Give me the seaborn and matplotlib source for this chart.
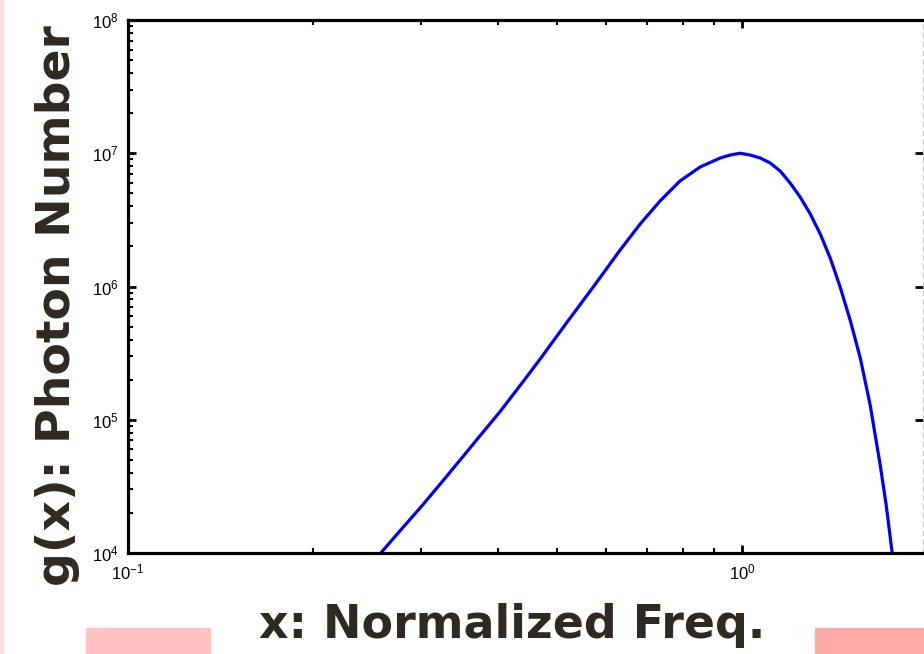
import numpy as np
import pandas as pd
import matplotlib
matplotlib.use("Agg")
import matplotlib.pyplot as plt
import seaborn as sns
from matplotlib.patches import Rectangle
from matplotlib.ticker import NullFormatter

# values (log-log)
freq = [0.258, 0.277, 0.299, 0.322, 0.347, 0.374, 0.404, 0.442, 0.469, 0.519,
        0.572, 0.633, 0.682, 0.735, 0.792, 0.854, 0.921, 0.956, 0.992, 1.030,
        1.070, 1.111, 1.153, 1.197, 1.243, 1.291, 1.340, 1.391, 1.444, 1.499,
        1.557, 1.616, 1.678, 1.716, 1.755]
photons = [1.0e4, 1.46e4, 2.18e4, 3.27e4, 4.96e4, 7.55e4, 1.16e5, 1.99e5, 2.86e5, 5.42e5,
           9.9e5, 1.88e6, 2.94e6, 4.38e6, 6.19e6, 7.88e6, 9.21e6, 9.70e6, 1.0e7, 9.70e6,
           9.21e6, 8.45e6, 7.36e6, 5.98e6, 4.69e6, 3.50e6, 2.48e6, 1.64e6, 9.9e5, 5.61e5,
           2.91e5, 1.29e5, 4.57e4, 2.29e4, 1.0e4]

xlim = (0.1, 1.97)
ylim = (1e4, 1e8)

df = pd.DataFrame({"x": freq, "g": photons})

sns.set_style("ticks")
plt.rcParams["font.family"] = ["Liberation Sans", "DejaVu Sans"]
plt.rcParams["mathtext.default"] = "regular"

fig = plt.figure(figsize=(9.24, 6.54), dpi=100)
ax = fig.add_axes([128 / 924, 1 - 553 / 654, 795 / 924, 533 / 654])

sns.lineplot(data=df, x="x", y="g", ax=ax, color="#0000ff", linewidth=2.3,
             sort=False, estimator=None)

ax.set_xscale("log")
ax.set_yscale("log")
ax.set_xlim(*xlim)
ax.set_ylim(*ylim)
ax.xaxis.set_minor_formatter(NullFormatter())
ax.yaxis.set_minor_formatter(NullFormatter())

for side in ["left", "bottom", "top"]:
    ax.spines[side].set_linewidth(2.3)
    ax.spines[side].set_color("black")
ax.spines["right"].set_color("#c8c8c8")
ax.spines["right"].set_linestyle((0, (4, 4)))
ax.spines["right"].set_linewidth(0.8)

ax.tick_params(which="both", direction="in", top=True, color="black",
               labelsize=12, labelcolor="black")
ax.tick_params(which="major", length=6, width=2, pad=7, right=True)
ax.tick_params(which="minor", length=3.5, width=1.5, right=False)

font_lbl = dict(family=["DejaVu Sans"], fontweight="bold", color="#2e2a22")
ax.set_xlabel("x: Normalized Freq.", fontsize=33, va="baseline", **font_lbl)
ax.set_ylabel("g(x): Photon Number", fontsize=34, **font_lbl)
ax.xaxis.set_label_coords((512 - 128) / 795, -(638 - 553) / 533)
ax.yaxis.set_label_coords(-(128 - 80) / 795, (553 - 306) / 533)

# pink decorations around the bottom label
fig.patches.append(Rectangle((86 / 924, 0), 124 / 924, 26 / 654,
                             transform=fig.transFigure, color="#ffc1c1", zorder=0))
fig.patches.append(Rectangle((815 / 924, 0), 109 / 924, 26 / 654,
                             transform=fig.transFigure, color="#fdaaa8", zorder=0))
fig.patches.append(Rectangle((0, 0), 3 / 924, 1,
                             transform=fig.transFigure, color="#fde0e0", zorder=0))

fig.savefig("out.png", dpi=100)
